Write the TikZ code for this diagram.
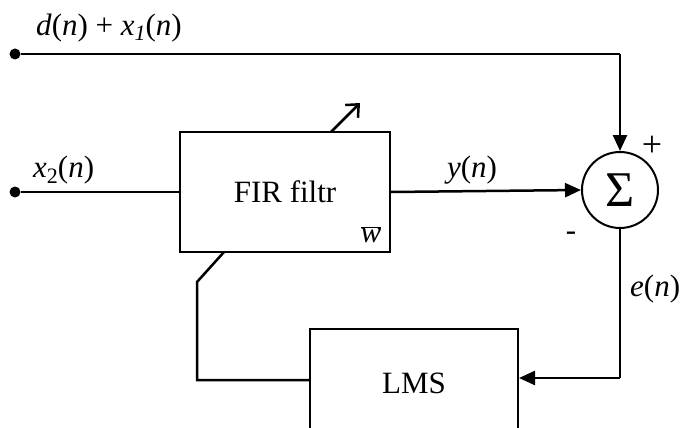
\documentclass[tikz,border=0pt]{standalone}
\usepackage{fontspec}
\setmainfont{Liberation Serif}
\usetikzlibrary{arrows.meta}
\tikzset{
  wire/.style={line width=2.5pt},
  arr/.style={wire,-{Triangle[length=16pt,width=14pt]}},
  dotnode/.style={circle,fill=black,inner sep=0pt,minimum size=11pt},
  blk/.style={draw,line width=2pt,inner sep=0pt},
  lbl/.style={inner sep=0pt,font=\fontsize{31}{35}\selectfont},
  txt/.style={inner sep=0pt,font=\fontsize{31}{35}\selectfont},
}
\newcommand{\ivar}[1]{\textit{#1}}
\begin{document}
\begin{tikzpicture}[x=1pt,y=-1pt]
\clip (0,0) rectangle (688,428);
\fill[white] (0,0) rectangle (688,428);
% nodes
\node[dotnode] (d1) at (15,54) {};
\node[dotnode] (d2) at (15,192) {};
\node[blk,minimum width=210pt,minimum height=120pt] (fir) at (285,192) {};
\node[txt] (firtxt) at (285,192) {FIR filtr};
\node[lbl] (w) at (371,235) {$\overline{\mbox{\ivar{w}}}$};
\node[draw,circle,line width=2pt,minimum size=76pt,inner sep=0pt] (sum) at (620,190) {};
\node[txt,font=\fontsize{50}{54}\selectfont] (sig) at (620,190) {Σ};
\node[blk,minimum width=208pt,minimum height=150pt,anchor=north] (lms) at (414,328) {};
\node[txt] (lmstxt) at (414,383) {LMS};
% coordinates
\coordinate (c1) at (620,54);
\coordinate (c2) at (620,378);
\coordinate (c3) at (197,380);
\coordinate (c4) at (197,282);
\coordinate (c5) at (224,252);
\coordinate (a1) at (331,132);
\coordinate (a2) at (360,103);
% connectors
\draw[wire] (d1) -- (c1);
\draw[arr] (c1) -- (sum.north);
\draw[wire] (d2) -- (fir.west);
\draw[arr] (fir.east) -- (sum.west);
\draw[wire] (sum.south) -- (c2);
\draw[arr] (c2) -- (c2 -| lms.east);
\draw[wire] (lms.west |- c3) -- (c3) -- (c4) -- (c5);
\draw[wire,-{Straight Barb[length=10pt,width=18pt]}] (a1) -- (a2);
% labels
\node[lbl,anchor=west] (l1) at (36,28) {\ivar{d}(\ivar{n}) + \ivar{x}\raisebox{-5pt}{\fontsize{22}{24}\selectfont\itshape 1}(\ivar{n})};
\node[lbl,anchor=west] (l2) at (33,170) {\ivar{x}\raisebox{-6pt}{\fontsize{22}{24}\selectfont 2}(\ivar{n})};
\node[lbl] (l3) at (472,170) {\ivar{y}(\ivar{n})};
\node[lbl,anchor=west] (l4) at (630,289) {\ivar{e}(\ivar{n})};
\node[txt,font=\fontsize{36}{40}\selectfont] (plus) at (652,146) {+};
\node[txt] (minus) at (571,236) {-};
\end{tikzpicture}
\end{document}
